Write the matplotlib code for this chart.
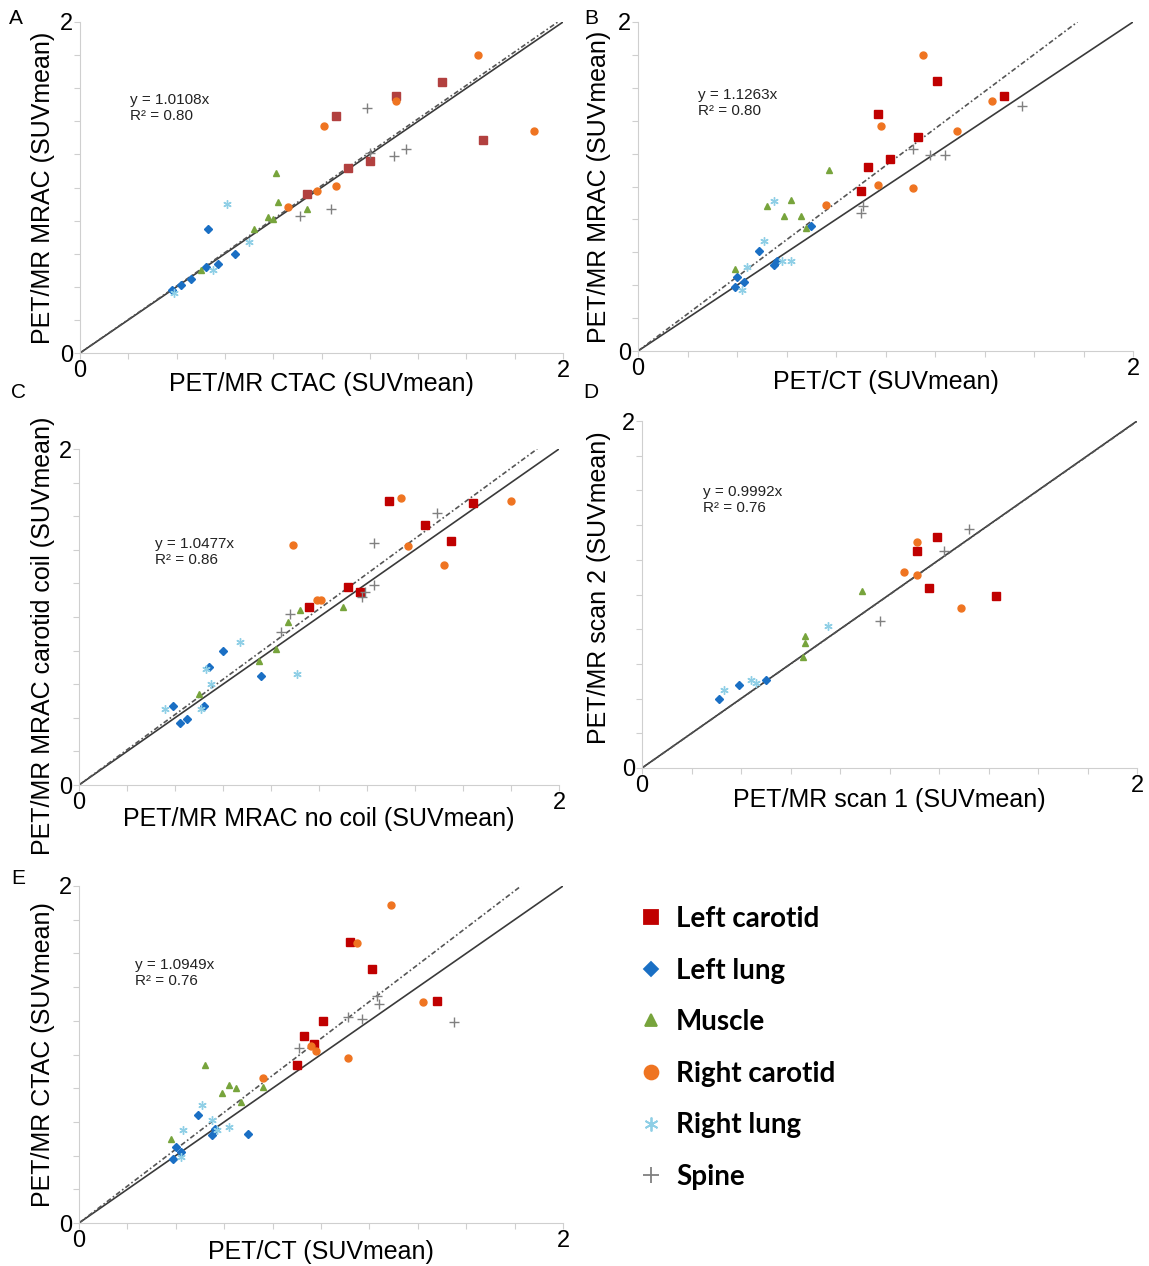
import matplotlib
matplotlib.use("Agg")
import matplotlib.pyplot as plt
from matplotlib.lines import Line2D
import numpy as np

plt.rcParams['font.family'] = ['Liberation Sans', 'DejaVu Sans']

# series styles
series = ['Left carotid', 'Left lung', 'Muscle', 'Right carotid', 'Right lung', 'Spine']
markers = ['s', 'D', '^', 'o', (6, 2, 0), '+']
colors = ['#c00000', '#1a6fc4', '#77a43c', '#ef7421', '#8fcfe6', '#808080']
msizes = [5.5, 4.0, 5.0, 5.0, 6.0, 6.5]
legend_sizes = [10, 7, 9, 10, 10, 11]

# A: PET/MR CTAC vs PET/MR MRAC
a_left_carotid = [(0.94, 0.96), (1.11, 1.12), (1.20, 1.16), (1.06, 1.43), (1.31, 1.55), (1.50, 1.64), (1.67, 1.29)]
a_left_lung = [(0.53, 0.75), (0.64, 0.60), (0.52, 0.52), (0.57, 0.54), (0.46, 0.45), (0.42, 0.41), (0.38, 0.38)]
a_muscle = [(0.81, 1.09), (0.82, 0.91), (0.94, 0.87), (0.78, 0.82), (0.80, 0.81), (0.72, 0.75), (0.50, 0.50)]
a_right_carotid = [(1.65, 1.80), (1.31, 1.52), (1.01, 1.37), (1.88, 1.34), (1.06, 1.01), (0.98, 0.98), (0.86, 0.88)]
a_right_lung = [(0.61, 0.90), (0.70, 0.67), (0.55, 0.50), (0.39, 0.36)]
a_spine = [(1.19, 1.48), (1.35, 1.23), (1.30, 1.19), (1.20, 1.21), (1.04, 0.87), (0.91, 0.83)]

# B: PET/CT vs PET/MR MRAC
b_left_carotid = [(1.21, 1.64), (1.48, 1.55), (0.97, 1.44), (1.13, 1.30), (1.02, 1.17), (0.93, 1.12), (0.90, 0.97)]
b_left_lung = [(0.70, 0.76), (0.49, 0.61), (0.56, 0.55), (0.55, 0.52), (0.40, 0.45), (0.43, 0.42), (0.39, 0.39)]
b_muscle = [(0.77, 1.10), (0.62, 0.92), (0.52, 0.88), (0.59, 0.82), (0.66, 0.82), (0.68, 0.75), (0.39, 0.50)]
b_right_carotid = [(1.15, 1.80), (1.43, 1.52), (0.98, 1.37), (1.29, 1.34), (0.97, 1.01), (1.11, 0.99), (0.76, 0.89)]
b_right_lung = [(0.55, 0.91), (0.51, 0.67), (0.62, 0.55), (0.58, 0.55), (0.44, 0.51), (0.42, 0.37)]
b_spine = [(1.55, 1.49), (1.11, 1.23), (1.24, 1.19), (1.18, 1.19), (0.91, 0.88), (0.90, 0.84)]

# C: MRAC no coil vs MRAC carotid coil
c_left_carotid = [(1.29, 1.69), (1.64, 1.68), (1.44, 1.55), (1.55, 1.45), (1.12, 1.18), (1.17, 1.15), (0.96, 1.06)]
c_left_lung = [(0.60, 0.80), (0.54, 0.70), (0.76, 0.65), (0.39, 0.47), (0.52, 0.47), (0.45, 0.39), (0.42, 0.37)]
c_muscle = [(0.92, 1.04), (1.10, 1.06), (0.87, 0.97), (0.82, 0.81), (0.75, 0.74), (0.50, 0.54)]
c_right_carotid = [(1.34, 1.71), (1.80, 1.69), (0.89, 1.43), (1.37, 1.42), (1.52, 1.31), (0.99, 1.10), (1.01, 1.10)]
c_right_lung = [(0.67, 0.85), (0.91, 0.66), (0.55, 0.60), (0.53, 0.69), (0.36, 0.45), (0.51, 0.45)]
c_spine = [(1.49, 1.62), (1.23, 1.44), (1.23, 1.19), (1.19, 1.15), (1.18, 1.12), (0.88, 1.02), (0.84, 0.91)]

# D: scan 1 vs scan 2
d_left_carotid = [(1.19, 1.33), (1.11, 1.25), (1.16, 1.04), (1.43, 0.99)]
d_left_lung = [(0.50, 0.51), (0.39, 0.48), (0.31, 0.40)]
d_muscle = [(0.89, 1.02), (0.66, 0.76), (0.66, 0.72), (0.65, 0.64)]
d_right_carotid = [(1.11, 1.30), (1.06, 1.13), (1.11, 1.11), (1.29, 0.92)]
d_right_lung = [(0.75, 0.82), (0.44, 0.51), (0.46, 0.49), (0.33, 0.45)]
d_spine = [(1.32, 1.38), (1.22, 1.25), (0.96, 0.85)]

# E: PET/CT vs PET/MR CTAC
e_left_carotid = [(1.12, 1.67), (1.21, 1.51), (1.48, 1.32), (1.01, 1.20), (0.93, 1.11), (0.97, 1.06), (0.90, 0.94)]
e_left_lung = [(0.49, 0.64), (0.70, 0.53), (0.56, 0.56), (0.55, 0.52), (0.40, 0.45), (0.42, 0.42), (0.39, 0.38)]
e_muscle = [(0.52, 0.94), (0.62, 0.82), (0.65, 0.80), (0.59, 0.77), (0.67, 0.72), (0.76, 0.81), (0.38, 0.50)]
e_right_carotid = [(1.29, 1.89), (1.15, 1.66), (1.42, 1.31), (0.98, 1.02), (1.11, 0.98), (0.76, 0.86), (0.96, 1.05)]
e_right_lung = [(0.51, 0.70), (0.55, 0.61), (0.43, 0.55), (0.62, 0.57), (0.57, 0.55), (0.42, 0.39)]
e_spine = [(1.55, 1.19), (1.24, 1.30), (1.23, 1.35), (1.17, 1.21), (1.11, 1.22), (0.91, 1.04)]

letters = ['A', 'B', 'C', 'D', 'E']
xlabels = ['PET/MR CTAC (SUVmean)', 'PET/CT (SUVmean)', 'PET/MR MRAC no coil (SUVmean)',
           'PET/MR scan 1 (SUVmean)', 'PET/CT (SUVmean)']
ylabels = ['PET/MR MRAC (SUVmean)', 'PET/MR MRAC (SUVmean)', 'PET/MR MRAC carotid coil (SUVmean)',
           'PET/MR scan 2 (SUVmean)', 'PET/MR CTAC (SUVmean)']
slopes = [1.0108, 1.1263, 1.0477, 0.9992, 1.0949]
r2 = ['0.80', '0.80', '0.86', '0.76', '0.76']

panel_data = [
    [a_left_carotid, a_left_lung, a_muscle, a_right_carotid, a_right_lung, a_spine],
    [b_left_carotid, b_left_lung, b_muscle, b_right_carotid, b_right_lung, b_spine],
    [c_left_carotid, c_left_lung, c_muscle, c_right_carotid, c_right_lung, c_spine],
    [d_left_carotid, d_left_lung, d_muscle, d_right_carotid, d_right_lung, d_spine],
    [e_left_carotid, e_left_lung, e_muscle, e_right_carotid, e_right_lung, e_spine],
]

# layout in pixels (left, top, right, bottom)
W, H = 1149, 1266
boxes = [(80, 22, 563, 353), (638, 22, 1133, 351), (79, 449, 559, 785),
         (642, 421, 1137, 768), (79, 886, 563, 1223)]
eq_pos = [(0.104, 0.785), (0.121, 0.80), (0.158, 0.738), (0.123, 0.816), (0.116, 0.787)]
letter_pos = [(16, 18), (591, 18), (18, 392), (591, 392), (18, 878)]
# x label centre (px from axis bottom), y label right edge x (px) and centre (axes frac)
xlab_dy = [31, 31, 34, 32, 29]
ylab_x = [55, 611, 55, 611, 55]
ylab_y = [0.5, 0.5, 0.445, 0.52, 0.5]

fig = plt.figure(figsize=(W / 100, H / 100), dpi=100)

for i in range(5):
    l, t, r, b = boxes[i]
    ax = fig.add_axes([l / W, 1 - b / H, (r - l) / W, (b - t) / H])
    ax.set_xlim(0, 2)
    ax.set_ylim(0, 2)

    line = np.array([0, 2])
    ax.plot(line, line, color='#3a3a3a', lw=1.2, zorder=1)
    xend = min(2, 2 / slopes[i])
    ax.plot([0, xend], [0, slopes[i] * xend], color='#555555', lw=1.2,
            dashes=(3, 1.5, 1, 1.5), zorder=1)

    for j, pts in enumerate(panel_data[i]):
        pts = np.array(pts)
        c = colors[j]
        if i == 0 and j == 0:
            c = '#b2403f'
        ax.plot(pts[:, 0], pts[:, 1], linestyle='none', marker=markers[j],
                ms=msizes[j], color=c, mec=c, mew=1.0, zorder=3)

    ax.text(eq_pos[i][0], eq_pos[i][1], 'y = %.4fx\nR\u00b2 = %s' % (slopes[i], r2[i]),
            transform=ax.transAxes, ha='left', va='top', fontsize=11,
            linespacing=1.2, color='#222222')

    for s in ['top', 'right']:
        ax.spines[s].set_visible(False)
    for s in ['left', 'bottom']:
        ax.spines[s].set_color('#cfcfcf')
    ticks = np.arange(0, 2.01, 0.2)
    labels = ['0'] + [''] * 9 + ['2']
    ax.set_xticks(ticks)
    ax.set_xticklabels(labels, fontsize=17)
    ax.set_yticks(ticks)
    ax.set_yticklabels(labels, fontsize=17)
    ax.tick_params(length=4, width=0.8, color='#cfcfcf', pad=1)

    ax.set_xlabel(xlabels[i], fontsize=18, va='center')
    ax.xaxis.set_label_coords(0.5, -xlab_dy[i] / (b - t))
    ax.set_ylabel(ylabels[i], fontsize=18)
    ax.yaxis.set_label_coords((ylab_x[i] - l) / (r - l), ylab_y[i])

    fig.text(letter_pos[i][0] / W, 1 - letter_pos[i][1] / H, letters[i],
             ha='center', va='center', fontsize=15)

handles = [Line2D([], [], linestyle='none', marker=markers[j], color=colors[j],
                  mec=colors[j], mew=1.3, ms=legend_sizes[j]) for j in range(6)]
fig.legend(handles, series, loc='upper left', bbox_to_anchor=(615 / W, 1 - 881 / H),
           frameon=False, labelspacing=0.92, handlelength=0.8, handletextpad=0.5,
           prop={'family': 'Lato', 'weight': 'bold', 'size': 20})

fig.savefig('out.png', dpi=100)
